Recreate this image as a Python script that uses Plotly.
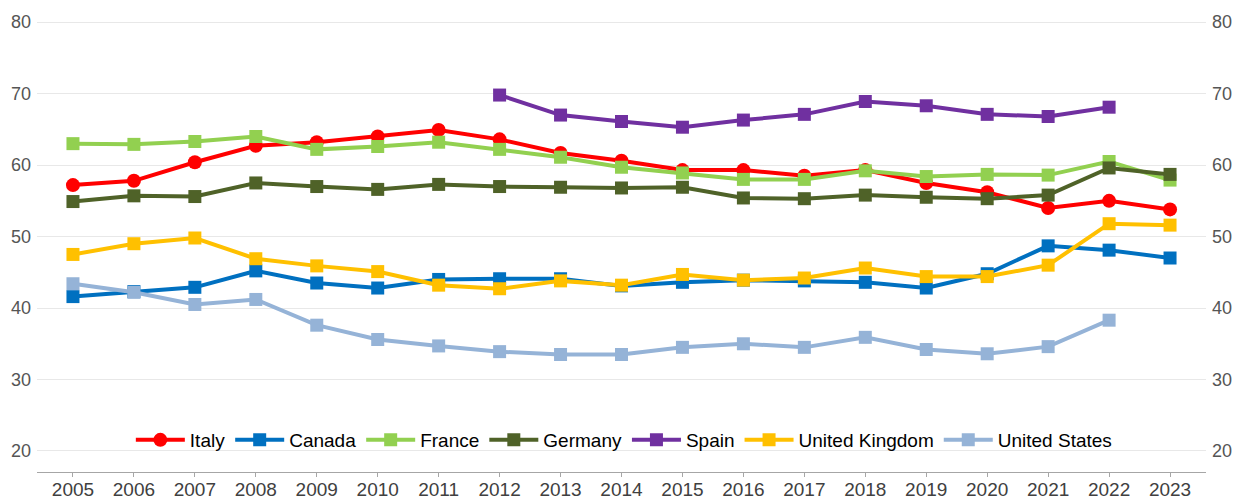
import plotly.graph_objects as go

years = list(range(2005, 2024))
italy = [57.2, 57.8, 60.4, 62.7, 63.2, 64.0, 64.9, 63.6, 61.7, 60.6, 59.3, 59.3, 58.5, 59.3, 57.5, 56.2, 54.0, 55.0, 53.8]
canada = [41.6, 42.3, 42.9, 45.2, 43.5, 42.8, 44.0, 44.1, 44.1, 43.1, 43.6, 43.9, 43.8, 43.6, 42.8, 44.8, 48.7, 48.1, 47.0]
france = [63.0, 62.9, 63.3, 64.0, 62.2, 62.6, 63.2, 62.2, 61.1, 59.7, 58.9, 58.0, 58.0, 59.2, 58.4, 58.7, 58.6, 60.5, 57.9]
germany = [54.9, 55.7, 55.6, 57.5, 57.0, 56.6, 57.3, 57.0, 56.9, 56.8, 56.9, 55.4, 55.3, 55.8, 55.5, 55.3, 55.8, 59.6, 58.7]
spain_years = list(range(2012, 2023))
spain = [69.8, 67.0, 66.1, 65.3, 66.3, 67.1, 68.9, 68.3, 67.1, 66.8, 68.1]
uk = [47.5, 49.0, 49.8, 46.9, 45.9, 45.1, 43.2, 42.7, 43.8, 43.2, 44.7, 43.9, 44.2, 45.6, 44.4, 44.4, 46.0, 51.8, 51.6]
us_years = list(range(2005, 2023))
us = [43.4, 42.2, 40.5, 41.2, 37.6, 35.6, 34.7, 33.9, 33.5, 33.5, 34.5, 35.0, 34.5, 35.9, 34.2, 33.6, 34.6, 38.3]

series = [
    ("Italy", years, italy, "#FF0000", "circle"),
    ("Canada", years, canada, "#0070C0", "square"),
    ("France", years, france, "#92D050", "square"),
    ("Germany", years, germany, "#4F6228", "square"),
    ("Spain", spain_years, spain, "#7030A0", "square"),
    ("United Kingdom", years, uk, "#FFC000", "square"),
    ("United States", us_years, us, "#95B3D7", "square"),
]

yticks = [20, 30, 40, 50, 60, 70, 80]
yrange = [17.06, 81.0]

fig = go.Figure()
for name, xs, ys, color, sym in series:
    fig.add_trace(go.Scatter(
        x=xs, y=ys, name=name, mode="lines+markers",
        line=dict(color=color, width=4),
        marker=dict(color=color, symbol=sym, size=13 if sym == "square" else 14),
        hoverinfo="x+y+name",
    ))

# invisible trace to carry the right-hand axis
fig.add_trace(go.Scatter(x=[years[0]], y=[yticks[0]], yaxis="y2", mode="markers",
                         marker=dict(opacity=0), showlegend=False, hoverinfo="skip"))

font_family = "Liberation Sans, Arial, sans-serif"
fig.update_layout(
    width=1244, height=499,
    margin=dict(l=37, r=38, t=15, b=27, autoexpand=False),
    paper_bgcolor="white", plot_bgcolor="white",
    font=dict(family=font_family, size=16, color="#555555"),
    showlegend=True,
    legend=dict(orientation="h", x=0.502, y=0.07, xanchor="center", yanchor="middle",
                bgcolor="rgba(0,0,0,0)", font=dict(size=19, color="#000000"),
                itemwidth=49, tracegroupgap=0),
    xaxis=dict(range=[2004.41, 2023.59], tickmode="array", tickvals=years,
               ticktext=[str(y) for y in years], showgrid=False, zeroline=False,
               showline=True, linecolor="#A6A6A6", linewidth=1,
               ticks="", automargin=False,
               minor=dict(ticks="outside", ticklen=4, tickcolor="#A6A6A6",
                          tickmode="array", tickvals=years, showgrid=False),
               tickfont=dict(size=19, color="#404040")),
    yaxis=dict(range=yrange, tickmode="array", tickvals=yticks, showgrid=True,
               gridcolor="#E8E8E8", gridwidth=1, zeroline=False, showline=False,
               ticks="", automargin=False, ticklabelstandoff=5,
               tickfont=dict(size=18, color="#555555")),
    yaxis2=dict(range=yrange, tickmode="array", tickvals=yticks, overlaying="y",
                side="right", showgrid=False, zeroline=False, showline=False,
                ticks="", automargin=False, ticklabelstandoff=5,
                tickfont=dict(size=18, color="#555555")),
)

fig.write_html("out.html", config={"displayModeBar": False},
               post_script="document.body.style.margin='0px';document.body.style.overflow='hidden';")
